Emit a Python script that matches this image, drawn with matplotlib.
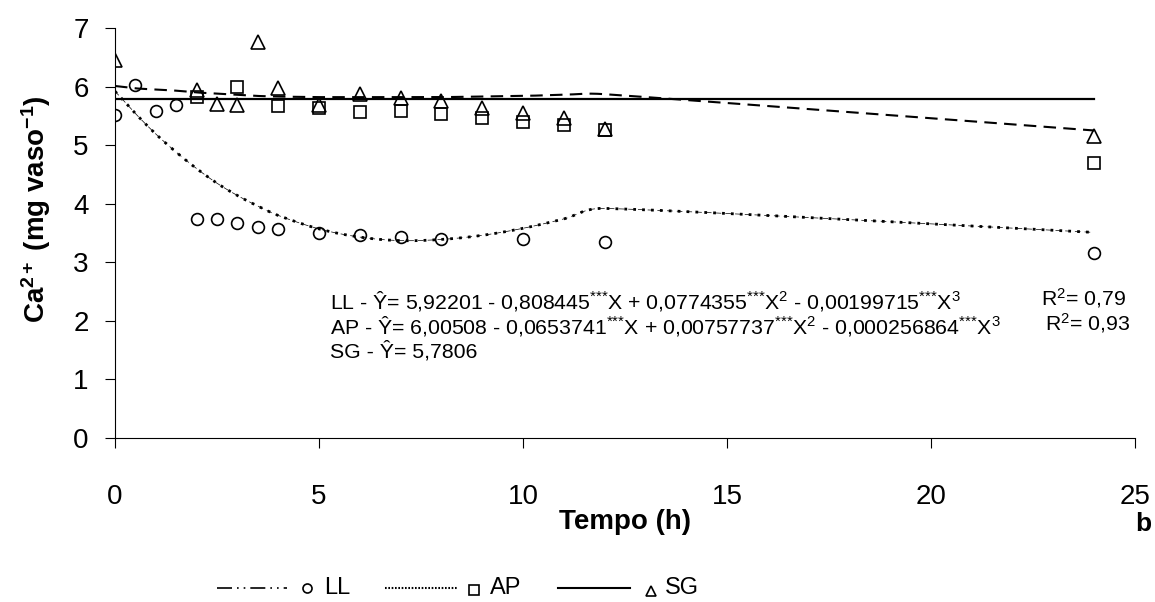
import numpy as np
import matplotlib
matplotlib.use("Agg")
import matplotlib.pyplot as plt
from matplotlib.lines import Line2D

plt.rcParams['font.family'] = ['Liberation Sans', 'DejaVu Sans']
plt.rcParams['mathtext.fontset'] = 'custom'
plt.rcParams['mathtext.rm'] = 'Liberation Sans'
plt.rcParams['mathtext.it'] = 'Liberation Sans:italic'
plt.rcParams['mathtext.bf'] = 'Liberation Sans:bold'

# ---------------- data ----------------
ll_x = [0, 0.5, 1, 1.5, 2, 2.5, 3, 3.5, 4, 5, 6, 7, 8, 10, 12, 24]
ll_y = [5.52, 6.03, 5.58, 5.68, 3.74, 3.74, 3.67, 3.60, 3.57, 3.50, 3.47, 3.43, 3.40, 3.40, 3.34, 3.16]

ap_x = [2, 3, 4, 5, 6, 7, 8, 9, 10, 11, 12, 24]
ap_y = [5.83, 6.00, 5.67, 5.63, 5.56, 5.59, 5.53, 5.46, 5.39, 5.34, 5.26, 4.70]

sg_x = [0, 2, 2.5, 3, 3.5, 4, 5, 6, 7, 8, 9, 10, 11, 12, 24]
sg_y = [6.45, 5.95, 5.70, 5.69, 6.76, 5.97, 5.68, 5.88, 5.81, 5.75, 5.63, 5.55, 5.46, 5.27, 5.16]

fit_x = [0, 0.5, 1, 1.5, 2, 2.5, 3, 3.5, 4, 5, 6, 7, 8, 9, 10, 11, 12, 24]
ll_fit = [5.92, 5.54, 5.19, 4.88, 4.60, 4.35, 4.14, 3.96, 3.80, 3.57, 3.43, 3.37, 3.39, 3.46, 3.58, 3.74, 3.92, 3.51]
ap_fit = [6.01, 5.97, 5.95, 5.93, 5.90, 5.88, 5.86, 5.84, 5.83, 5.82, 5.82, 5.82, 5.82, 5.83, 5.84, 5.86, 5.87, 5.25]
sg_fit_x = [0, 24]
sg_fit = [5.7806, 5.7806]

x_ticks = [0, 5, 10, 15, 20, 25]
y_ticks = [0, 1, 2, 3, 4, 5, 6, 7]

AST = "$^{{*}{*}{*}}$"
eq_lines = [
    "LL - Ŷ= 5,92201 - 0,808445" + AST + "X + 0,0774355" + AST + "X$^{2}$ - 0,00199715" + AST + "X$^{3}$",
    "AP - Ŷ= 6,00508 - 0,0653741" + AST + "X + 0,00757737" + AST + "X$^{2}$ - 0,000256864" + AST + "X$^{3}$",
    "SG - Ŷ= 5,7806",
]
r2_lines = ["R$^{2}$= 0,79", "R$^{2}$= 0,93"]


W, H = 1155, 602
fig = plt.figure(figsize=(W / 100, H / 100), dpi=100)


def fx(px):
    return px / W


def fy(py):
    return 1 - py / H


ax = fig.add_axes([fx(115), fy(438), fx(1135) - fx(115), fy(28) - fy(438)])
ax.set_xlim(0, 25)
ax.set_ylim(0, 7)


def excel_smooth(xs, ys, n=40):
    """Bezier smoothing like spreadsheet 'smoothed line' charts (in display space)."""
    P = ax.transData.transform(np.column_stack([xs, ys]).astype(float))
    out = [P[0]]
    m = len(P)
    for i in range(m - 1):
        p0 = P[i - 1] if i > 0 else P[i]
        p1 = P[i]
        p2 = P[i + 1]
        p3 = P[i + 2] if i + 2 < m else P[i + 1]
        d12 = np.hypot(*(p2 - p1))
        t1 = p2 - p0
        t2 = p3 - p1
        f1 = min(1 / 6, 0.5 * d12 / max(np.hypot(*t1), 1e-9))
        f2 = min(1 / 6, 0.5 * d12 / max(np.hypot(*t2), 1e-9))
        c1 = p1 + t1 * f1
        c2 = p2 - t2 * f2
        t = np.linspace(0, 1, n)[1:, None]
        seg = ((1 - t) ** 3) * p1 + 3 * ((1 - t) ** 2) * t * c1 + 3 * (1 - t) * t ** 2 * c2 + t ** 3 * p2
        out.extend(seg)
    out = ax.transData.inverted().transform(np.array(out))
    return out[:, 0], out[:, 1]


ax.spines['top'].set_visible(False)
ax.spines['right'].set_visible(False)
for s in ('left', 'bottom'):
    ax.spines[s].set_linewidth(0.8)
ax.set_xticks(x_ticks)
ax.set_yticks(y_ticks)
ax.tick_params(axis='both', direction='out', length=7, width=0.8, labelsize=20)
ax.tick_params(axis='x', pad=26)
ax.tick_params(axis='y', pad=12)

# fitted curves
lx, ly = excel_smooth(fit_x, ll_fit)
ax.plot(lx, ly, color='black', lw=2.0, ls=(0, (1, 2.2)), zorder=2)
ax.plot(lx, ly, color='black', lw=0.5, ls=(0, (8, 6)), zorder=2)
axx, ayy = excel_smooth(fit_x, ap_fit)
ax.plot(axx, ayy, color='black', lw=1.5, ls=(0, (6, 3.5)), zorder=2)
ax.plot(sg_fit_x, sg_fit, color='black', lw=1.6, zorder=2)

# observed points
ax.plot(ll_x, ll_y, ls='none', marker='o', ms=8.5, mfc='none', mec='black', mew=1.2, zorder=3)
ax.plot(ap_x, ap_y, ls='none', marker='s', ms=8.5, mfc='none', mec='black', mew=1.2, zorder=3)
ax.plot(sg_x, sg_y, ls='none', marker='^', ms=9.5, mfc='none', mec='black', mew=1.2, zorder=3)

# equations
for i, t in enumerate(eq_lines):
    fig.text(fx(330), fy(301 + 25 * i), t, fontsize=15.3, va='center', ha='left')
for i, t in enumerate(r2_lines):
    fig.text(fx(1041 + 4 * i), fy(298 + 25 * i), t, fontsize=15.3, va='center', ha='left')

# axis titles
fig.text(fx(625), fy(522), "Tempo (h)", fontsize=20, fontweight='bold', ha='center', va='center')
fig.text(fx(1143), fy(531), "b", fontsize=19, fontweight='bold', ha='center', va='baseline')
fig.text(fx(36), fy(209), r"Ca$^{\mathbf{2+}}$ (mg vaso$^{\mathbf{-1}}$)", fontsize=20,
         fontweight='bold', rotation=90, ha='center', va='center')

# legend (drawn in figure coordinates)
ly0 = fy(588)
fig.add_artist(Line2D([fx(217), fx(287)], [ly0, ly0], transform=fig.transFigure, color='black',
                      lw=1.2, ls=(0, (9, 3, 1, 3, 1, 3))))
fig.add_artist(Line2D([fx(307)], [ly0], transform=fig.transFigure, marker='o', ms=6.5,
                      mfc='none', mec='black', mew=1.2, ls='none'))
fig.text(fx(324), ly0, "LL", fontsize=17, va='center', ha='left')
fig.add_artist(Line2D([fx(385), fx(457)], [ly0, ly0], transform=fig.transFigure, color='black',
                      lw=1.5, ls=(0, (0.8, 0.8))))
fig.add_artist(Line2D([fx(474)], [ly0 - 0.004], transform=fig.transFigure, marker='s', ms=6.5,
                      mfc='none', mec='black', mew=1.2, ls='none'))
fig.text(fx(490), ly0, "AP", fontsize=17, va='center', ha='left')
fig.add_artist(Line2D([fx(558), fx(630)], [ly0, ly0], transform=fig.transFigure, color='black',
                      lw=1.5))
fig.add_artist(Line2D([fx(651)], [ly0 - 0.005], transform=fig.transFigure, marker='^', ms=7,
                      mfc='none', mec='black', mew=1.2, ls='none'))
fig.text(fx(665), ly0, "SG", fontsize=17, va='center', ha='left')

fig.savefig("out.png", dpi=100)
